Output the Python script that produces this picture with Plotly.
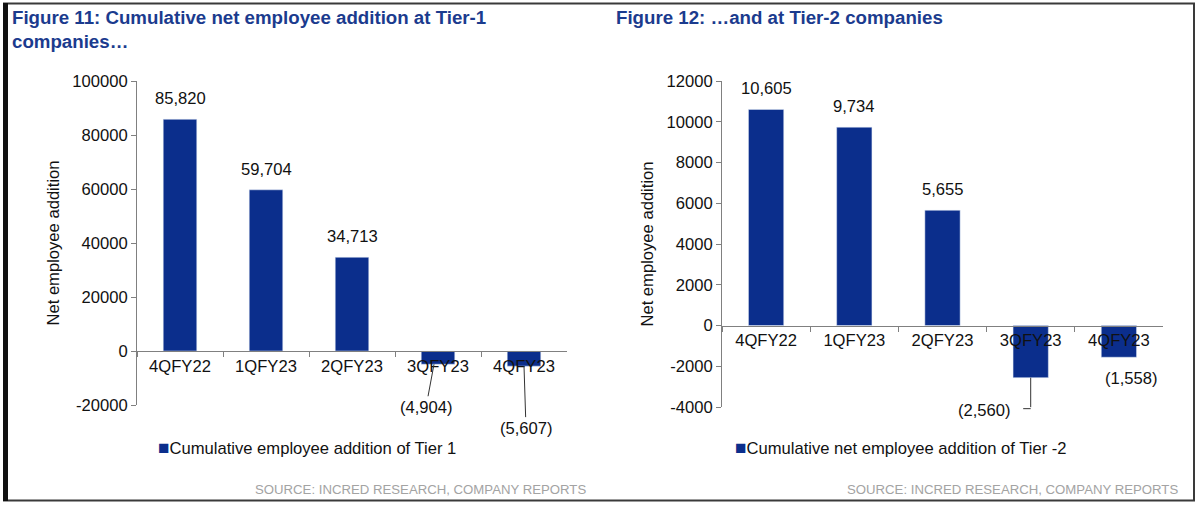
import plotly.graph_objects as go

# data
periods = ["4QFY22", "1QFY23", "2QFY23", "3QFY23", "4QFY23"]
tier1_adds = [85820, 59704, 34713, -4904, -5607]
tier2_adds = [10605, 9734, 5655, -2560, -1558]

tier1_ticks = [-20000, 0, 20000, 40000, 60000, 80000, 100000]
tier2_ticks = [-4000, -2000, 0, 2000, 4000, 6000, 8000, 10000, 12000]

BAR = "#0b2e8c"
TITLE = "#1b3b8e"
AXIS = "#808080"
FONT = "Liberation Sans, Arial, sans-serif"
FS = 16.6

W, H = 1200, 507


def fmt(v):
    return f"{v:,}" if v >= 0 else f"({-v:,})"


def zero_pos(dom, rng):
    # paper position of y = 0, so the category axis sits on the zero line
    return dom[0] + (0 - rng[0]) / (rng[1] - rng[0]) * (dom[1] - dom[0])


x1_dom, y1_dom, y1_rng = [137 / W, 567 / W], [1 - 405 / H, 1 - 81 / H], [-20000, 100000]
x2_dom, y2_dom, y2_rng = [722 / W, 1163 / W], [1 - 407 / H, 1 - 81 / H], [-4000, 12000]

fig = go.Figure()
fig.add_trace(go.Bar(x=periods, y=tier1_adds, marker_color=BAR, width=0.39,
                     xaxis="x", yaxis="y", showlegend=False, hoverinfo="x+y"))
fig.add_trace(go.Bar(x=periods, y=tier2_adds, marker_color=BAR, width=0.4,
                     xaxis="x2", yaxis="y2", showlegend=False, hoverinfo="x+y"))

lbl_font = dict(size=FS, color="#111", family=FONT)

xcommon = dict(type="category", showline=True, linecolor=AXIS, linewidth=1,
               ticks="outside", tickson="boundaries", ticklen=5, tickcolor=AXIS,
               showgrid=False, zeroline=False, automargin=False, anchor="free",
               tickfont=lbl_font)
ycommon = dict(showline=True, linecolor=AXIS, linewidth=1, ticks="outside",
               ticklen=5, tickcolor=AXIS, showgrid=False, zeroline=False,
               automargin=False, tickfont=lbl_font,
               title=dict(text="Net employee addition", standoff=8, font=lbl_font))

fig.update_layout(
    width=W, height=H,
    margin=dict(l=0, r=0, t=0, b=0),
    paper_bgcolor="white", plot_bgcolor="white",
    font=dict(family=FONT, color="#111"),
    xaxis=dict(domain=x1_dom, position=zero_pos(y1_dom, y1_rng), **xcommon),
    yaxis=dict(domain=y1_dom, range=y1_rng, tickvals=tier1_ticks,
               ticktext=[str(t) for t in tier1_ticks], anchor="x", **ycommon),
    xaxis2=dict(domain=x2_dom, position=zero_pos(y2_dom, y2_rng), **xcommon),
    yaxis2=dict(domain=y2_dom, range=y2_rng, tickvals=tier2_ticks,
                ticktext=[str(t) for t in tier2_ticks], anchor="x2", **ycommon),
)

ann = []

# positive value labels above bars
for xr, yr, vals in (("x", "y", tier1_adds), ("x2", "y2", tier2_adds)):
    for p, v in zip(periods, vals):
        if v > 0:
            ann.append(dict(x=p, y=v, xref=xr, yref=yr, text=fmt(v), showarrow=False,
                            yanchor="bottom", yshift=9, font=lbl_font))

# negative labels, tier 1 with leader lines
ann.append(dict(x=periods[3], y=tier1_adds[3], xref="x", yref="y", text=fmt(tier1_adds[3]),
                showarrow=True, arrowhead=0, arrowwidth=1, arrowcolor="#333",
                ax=-8, ay=43, xshift=-4, font=lbl_font))
ann.append(dict(x=periods[4], y=tier1_adds[4], xref="x", yref="y", text=fmt(tier1_adds[4]),
                showarrow=True, arrowhead=0, arrowwidth=1, arrowcolor="#333",
                ax=2, ay=62, font=lbl_font))

# tier 2: elbow leader for 3QFY23, plain label for 4QFY23
ann.append(dict(x=periods[3], y=tier2_adds[3], xref="x2", yref="y2", text="",
                showarrow=True, arrowhead=0, arrowwidth=1, arrowcolor="#333",
                ax=0, ay=31))
ann.append(dict(x=periods[3], y=tier2_adds[3], xref="x2", yref="y2", text="",
                showarrow=True, arrowhead=0, arrowwidth=1, arrowcolor="#333",
                ax=-9, ay=0, yshift=-31))
ann.append(dict(x=periods[3], y=tier2_adds[3], xref="x2", yref="y2", text=fmt(tier2_adds[3]),
                showarrow=False, xshift=-46, yshift=-33, font=lbl_font))
ann.append(dict(x=periods[4], y=tier2_adds[4], xref="x2", yref="y2", text=fmt(tier2_adds[4]),
                showarrow=False, xshift=13, yshift=-21, font=lbl_font))

# titles
ann.append(dict(x=10 / W, y=1 - 5 / H, xref="paper", yref="paper", xanchor="left",
                yanchor="top", align="left", showarrow=False,
                text="<b>Figure 11: Cumulative net employee addition at Tier-1<br>companies…</b>",
                font=dict(size=18.7, color=TITLE, family=FONT)))
ann.append(dict(x=614 / W, y=1 - 5 / H, xref="paper", yref="paper", xanchor="left",
                yanchor="top", align="left", showarrow=False,
                text="<b>Figure 12: …and at Tier-2 companies</b>",
                font=dict(size=18.7, color=TITLE, family=FONT)))

# legends
sq = f"<span style='color:{BAR};font-size:19px'>■</span>"
ann.append(dict(x=156 / W, y=1 - 447 / H, xref="paper", yref="paper", xanchor="left",
                yanchor="middle", showarrow=False,
                text=sq + "Cumulative employee addition of Tier 1", font=lbl_font))
ann.append(dict(x=733 / W, y=1 - 447 / H, xref="paper", yref="paper", xanchor="left",
                yanchor="middle", showarrow=False,
                text=sq + "Cumulative net employee addition of Tier -2", font=lbl_font))

# source lines
for xr in (588, 1180):
    ann.append(dict(x=xr / W, y=1 - 489 / H, xref="paper", yref="paper", xanchor="right",
                    yanchor="middle", showarrow=False,
                    text="SOURCE: INCRED RESEARCH, COMPANY REPORTS",
                    font=dict(size=13.2, color="#a3a3a3", family=FONT)))

fig.update_layout(annotations=ann)

# outer frame
frame = [
    dict(x0=3 / W, x1=1195 / W, y0=1 - 3.5 / H, y1=1 - 3.5 / H, w=2, c="#3a3a3a"),
    dict(x0=3 / W, x1=1195 / W, y0=1 - 500.5 / H, y1=1 - 500.5 / H, w=2, c="#3a3a3a"),
    dict(x0=1194 / W, x1=1194 / W, y0=1 - 3 / H, y1=1 - 501 / H, w=2, c="#3a3a3a"),
    dict(x0=5.5 / W, x1=5.5 / W, y0=1 - 3 / H, y1=1 - 501 / H, w=5, c="#111"),
]
for f in frame:
    fig.add_shape(type="line", xref="paper", yref="paper", x0=f["x0"], x1=f["x1"],
                  y0=f["y0"], y1=f["y1"], line=dict(color=f["c"], width=f["w"]))

fig.write_html("out.html", config={"displayModeBar": False},
               post_script="document.body.style.margin='0';")
